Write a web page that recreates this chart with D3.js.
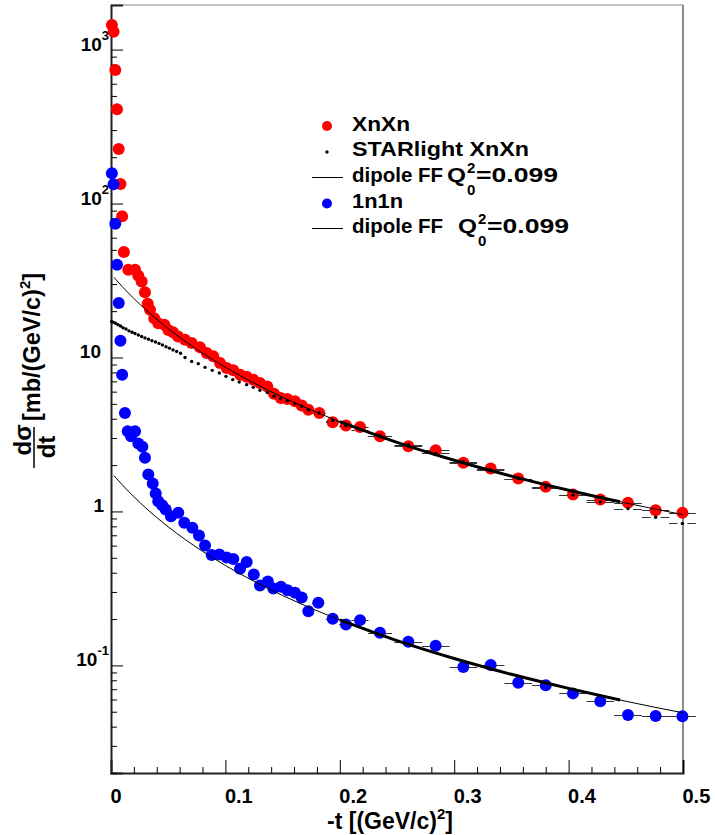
<!DOCTYPE html>
<html>
<head>
<meta charset="utf-8">
<script src="https://cdn.jsdelivr.net/npm/d3@7"></script>
<style>
	body { margin: 0; background: #fff; }
	text { font-family: "Liberation Sans", Arial, Helvetica, sans-serif; font-weight: bold; fill: #000; }
</style>
</head>
<body>
<div class="graphic"></div>
<script>
// XnXn data
const xnxnT = [0.00075,0.00225,0.00375,0.00525,0.00675,0.00825,0.00975,0.01125,0.0151,0.021,0.0239,0.0268,0.0297,0.0321,0.0341,0.0378,0.0413,0.0466,0.0501,0.0542,0.0586,0.0647,0.0705,0.0778,0.0837,0.0894,0.0953,0.1011,0.1069,0.1128,0.1186,0.1244,0.1302,0.1366,0.1425,0.1483,0.1541,0.1608,0.1667,0.1725,0.1821,0.1938,0.2054,0.2177,0.2351,0.2599,0.2838,0.308,0.3319,0.356,0.380,0.4038,0.4277,0.4519,0.4761,0.4995]
const xnxnV = [1445,1306,737,410,226,134,82.6,48.4,37.1,37.1,33.9,31.2,26.5,22.3,20.4,18.0,16.7,16.3,15.1,14.6,13.7,13.05,12.4,11.67,10.7,10.2,9.21,8.55,8.25,7.73,7.5,7.18,6.83,6.49,5.82,5.46,5.38,5.19,4.87,4.58,4.36,3.79,3.61,3.54,3.08,2.65,2.50,2.07,1.90,1.635,1.444,1.287,1.195,1.137,1.018,0.979]

// 1n1n data
const oneT = [0.00075,0.00225,0.00375,0.00525,0.00675,0.00825,0.00975,0.0122,0.0146,0.0175,0.021,0.0239,0.0274,0.0297,0.0326,0.0365,0.0391,0.0413,0.0448,0.0478,0.0524,0.0588,0.0641,0.0711,0.0769,0.0822,0.088,0.0947,0.1011,0.1069,0.1128,0.1186,0.1248,0.1302,0.1371,0.1419,0.1486,0.1543,0.1608,0.1667,0.1725,0.1812,0.1938,0.2054,0.2177,0.2351,0.2599,0.2838,0.308,0.3319,0.356,0.380,0.4038,0.4277,0.4519,0.4761,0.4995]
const oneV = [157.5,133.6,73.8,40.0,22.6,12.85,7.73,4.36,3.32,3.08,3.32,2.76,2.63,2.23,1.736,1.517,1.307,1.165,1.097,1.029,0.931,0.979,0.843,0.783,0.698,0.601,0.521,0.525,0.502,0.491,0.424,0.47,0.3895,0.330,0.351,0.316,0.324,0.308,0.296,0.276,0.225,0.255,0.201,0.1845,0.1968,0.163,0.1425,0.134,0.0975,0.1005,0.0772,0.0742,0.0658,0.0584,0.0476,0.0469,0.0467]

// STARlight XnXn
const starT = [0.0006,0.0022,0.0039,0.0061,0.0083,0.0105,0.0131,0.0157,0.0184,0.021,0.0239,0.0268,0.0297,0.0328,0.0358,0.0389,0.042,0.045,0.0481,0.0511,0.0542,0.0574,0.0608,0.0647,0.0705,0.0763,0.0822,0.0885,0.0947,0.1005,0.1064,0.1121,0.1186,0.1244,0.1302,0.1366,0.1425,0.1483,0.1541,0.1608,0.1667,0.1725,0.1821,0.1938,0.2054,0.2177,0.2351,0.2599,0.2838,0.308,0.3319,0.356,0.380,0.4038,0.4277,0.4519,0.4761,0.4995]
const starV = [17.15,16.9,16.7,16.3,16.0,15.6,15.3,14.9,14.6,14.3,14.0,13.7,13.4,13.15,12.85,12.6,12.35,12.05,11.75,11.5,11.2,10.95,10.66,10.0,9.43,9.12,8.63,8.25,7.93,7.54,7.18,6.93,6.66,6.40,6.12,5.93,5.59,5.40,5.24,5.01,4.82,4.58,4.36,3.89,3.61,3.40,3.11,2.72,2.38,2.11,1.87,1.635,1.43,1.274,1.154,1.044,0.917,0.835]

// dipole FF curves
const curveT = [0.0026,0.005,0.01,0.015,0.02,0.03,0.04,0.05,0.065,0.08,0.1,0.125,0.15,0.175,0.2,0.25,0.3,0.35,0.4,0.445,0.45,0.5]
const curveXnXn = [33.13,31.62,28.79,26.32,24.15,20.55,17.70,15.41,12.72,10.68,8.64,6.82,5.52,4.56,3.83,2.81,2.15,1.697,1.374,1.156,1.135,0.953]
const curve1n1n = [1.709,1.631,1.485,1.357,1.246,1.060,0.913,0.795,0.656,0.551,0.4455,0.3516,0.2845,0.235,0.1973,0.1448,0.1108,0.0875,0.0709,0.0596,0.0585,0.0492]
const fitRange = [0.2, 0.445]

// axes
const xDomain = [0, 0.5]
const yDomain = [0.02, 1948]
const xTicks = [0, 0.1, 0.2, 0.3, 0.4, 0.5]
const xTickLabels = ['0', '0.1', '0.2', '0.3', '0.4', '0.5']
const yTicks = [1000, 100, 10, 1, 0.1]
const yTickBase = ['10', '10', '10', '1', '10']
const yTickExp = ['3', '2', '', '', '-1']

const W = 715
const H = 835
const frame = { left: 111, top: 5, right: 683, bottom: 773 }
const font = '"Liberation Sans", Arial, Helvetica, sans-serif'

const svg = d3.select('.graphic').append('svg')
	.attr('width', W)
	.attr('height', H)

const x = d3.scaleLinear().domain(xDomain).range([frame.left, frame.right])
const y = d3.scaleLog().domain(yDomain).range([frame.bottom, frame.top])

// minor ticks
const xMinor = d3.range(0, 0.5001, 0.02).filter(v => xTicks.every(t => Math.abs(t - v) > 1e-6))
const yMinor = []
;[0.01, 0.1, 1, 10, 100, 1000].forEach(d => {
	for (let m = 2; m <= 9; m++) {
		const v = d * m
		if (v >= yDomain[0] && v <= yDomain[1]) yMinor.push(v)
	}
})

// frame
svg.append('line')
	.attr('x1', frame.left).attr('x2', frame.right)
	.attr('y1', frame.top).attr('y2', frame.top)
	.attr('stroke', '#888').attr('stroke-width', 1)
svg.append('line')
	.attr('x1', frame.right).attr('x2', frame.right)
	.attr('y1', frame.top).attr('y2', frame.bottom)
	.attr('stroke', '#666').attr('stroke-width', 1.5)

// x axis
const gx = svg.append('g')
	.attr('class', 'axis axis--x')
	.attr('transform', `translate(0,${frame.bottom})`)
gx.call(d3.axisBottom(x).tickValues(xTicks).tickSize(-13).tickPadding(16)
	.tickFormat((d, i) => xTickLabels[i]))
gx.select('.domain').attr('stroke', '#222').attr('stroke-width', 2)
gx.selectAll('text')
	.attr('text-anchor', 'start')
	.attr('x', -1)
	.style('font-size', '20px')
	.style('font-family', font)
	.style('font-weight', 'bold')
svg.append('g')
	.attr('transform', `translate(0,${frame.bottom})`)
	.call(d3.axisBottom(x).tickValues(xMinor).tickSize(-6).tickFormat(''))
	.call(g => g.select('.domain').remove())

// y axis
const gy = svg.append('g')
	.attr('class', 'axis axis--y')
	.attr('transform', `translate(${frame.left},0)`)
gy.call(d3.axisLeft(y).tickValues(yTicks).tickSize(-12).tickFormat(''))
gy.select('.domain').attr('stroke', '#222').attr('stroke-width', 2)
svg.append('g')
	.attr('transform', `translate(${frame.left},0)`)
	.call(d3.axisLeft(y).tickValues(yMinor).tickSize(-6).tickFormat(''))
	.call(g => g.select('.domain').remove())

const yLab = svg.append('g').attr('class', 'labels--y')
yTicks.forEach((v, i) => {
	const t = yLab.append('text')
		.attr('x', yTickExp[i] ? 109 : (yTickBase[i] === '1' ? 104 : 101))
		.attr('y', y(v) + 1)
		.attr('text-anchor', 'end')
		.style('font-size', '19px')
	t.append('tspan').text(yTickBase[i])
	if (yTickExp[i]) {
		t.append('tspan').attr('dy', -11).style('font-size', '13px').text(yTickExp[i])
	}
})

// titles
const xt = svg.append('text')
	.attr('x', 390).attr('y', 829)
	.attr('text-anchor', 'middle')
	.style('font-size', '23px')
xt.append('tspan').text('-t [(GeV/c)')
xt.append('tspan').attr('dy', -10).style('font-size', '15px').text('2')
xt.append('tspan').attr('dy', 10).text(']')

svg.append('text')
	.attr('transform', 'translate(31,440) rotate(-90)')
	.attr('text-anchor', 'middle')
	.style('font-size', '24px')
	.text('dσ')
svg.append('line')
	.attr('x1', 34).attr('x2', 34)
	.attr('y1', 427).attr('y2', 468)
	.attr('stroke', '#000').attr('stroke-width', 1.5)
svg.append('text')
	.attr('transform', 'translate(55,447) rotate(-90)')
	.attr('text-anchor', 'middle')
	.style('font-size', '24px')
	.text('dt')
const yt = svg.append('text')
	.attr('transform', 'translate(40,421) rotate(-90)')
	.attr('text-anchor', 'start')
	.style('font-size', '23.5px')
yt.append('tspan').text('[mb/(GeV/c)')
yt.append('tspan').attr('dy', -10).style('font-size', '15px').text('2')
yt.append('tspan').attr('dy', 10).text(']')

// series
const xnxn = xnxnT.map((t, i) => ({ t, v: xnxnV[i] }))
const one = oneT.map((t, i) => ({ t, v: oneV[i] }))
const star = starT.map((t, i) => ({ t, v: starV[i] }))
const curveA = curveT.map((t, i) => ({ t, v: curveXnXn[i] }))
const curveB = curveT.map((t, i) => ({ t, v: curve1n1n[i] }))

const plot = svg.append('g').attr('class', 'plot')

plot.append('g')
	.selectAll('circle')
	.data(xnxn)
	.enter().append('circle')
		.attr('cx', d => x(d.t))
		.attr('cy', d => y(d.v))
		.attr('r', 6)
		.attr('fill', '#f00')

plot.append('g')
	.selectAll('circle')
	.data(one)
	.enter().append('circle')
		.attr('cx', d => x(d.t))
		.attr('cy', d => y(d.v))
		.attr('r', 6)
		.attr('fill', '#00f')

// x error bars (half bin width), with a gap round the marker
function errorBars(data, gap) {
	const g = plot.append('g').attr('stroke', '#333').attr('stroke-width', 1)
	data.forEach((d, i) => {
		const lo = i > 0 ? data[i - 1].t : d.t - (data[i + 1].t - d.t)
		const hi = i < data.length - 1 ? data[i + 1].t : d.t + (d.t - data[i - 1].t)
		const cx = x(d.t)
		const hw = (x(hi) - x(lo)) / 4
		if (hw <= gap) return
		const cy = Math.round(y(d.v)) + 0.5
		g.append('line').attr('x1', cx - hw).attr('x2', cx - gap).attr('y1', cy).attr('y2', cy)
		g.append('line').attr('x1', cx + gap).attr('x2', cx + hw).attr('y1', cy).attr('y2', cy)
	})
}
errorBars(xnxn, 5)
errorBars(one, 5)
errorBars(star, 5)

plot.append('g')
	.selectAll('circle')
	.data(star)
	.enter().append('circle')
		.attr('cx', d => x(d.t))
		.attr('cy', d => y(d.v))
		.attr('r', 1.7)
		.attr('fill', '#000')

const line = d3.line()
	.x(d => x(d.t))
	.y(d => y(d.v))
	.curve(d3.curveMonotoneX)

;[curveA, curveB].forEach(c => {
	plot.append('path')
		.attr('d', line(c))
		.attr('fill', 'none')
		.attr('stroke', '#000')
		.attr('stroke-width', 1)
	plot.append('path')
		.attr('d', line(c.filter(d => d.t >= fitRange[0] - 1e-9 && d.t <= fitRange[1] + 1e-9)))
		.attr('fill', 'none')
		.attr('stroke', '#000')
		.attr('stroke-width', 3)
})

// legend
const leg = svg.append('g').attr('class', 'legend').style('font-size', '21px')
function legText(xp, yp, str, len) {
	return leg.append('text')
		.attr('x', xp).attr('y', yp)
		.attr('textLength', len)
		.attr('lengthAdjust', 'spacingAndGlyphs')
		.text(str)
}
leg.append('circle').attr('cx', 327).attr('cy', 126).attr('r', 5).attr('fill', '#f00')
legText(352, 131, 'XnXn', 58)
leg.append('circle').attr('cx', 327).attr('cy', 152).attr('r', 1.7).attr('fill', '#000')
legText(352, 156, 'STARlight XnXn', 177)
leg.append('line').attr('x1', 312).attr('x2', 343).attr('y1', 177.5).attr('y2', 177.5)
	.attr('stroke', '#000').attr('stroke-width', 1)
leg.append('circle').attr('cx', 327).attr('cy', 203.5).attr('r', 5).attr('fill', '#00f')
legText(352, 208, '1n1n', 51)
leg.append('line').attr('x1', 312).attr('x2', 343).attr('y1', 228.5).attr('y2', 228.5)
	.attr('stroke', '#000').attr('stroke-width', 1)

function dipoleLabel(yBase, qx) {
	legText(352, yBase, 'dipole FF', 91)
	legText(qx, yBase, 'Q', 19)
	leg.append('text').attr('x', qx + 20).attr('y', yBase - 9).style('font-size', '15px').text('2')
	leg.append('text').attr('x', qx + 20).attr('y', yBase + 13).style('font-size', '15px').text('0')
	legText(qx + 29, yBase, '=0.099', 82)
}
dipoleLabel(182, 447)
dipoleLabel(233, 458)
</script>
</body>
</html>
